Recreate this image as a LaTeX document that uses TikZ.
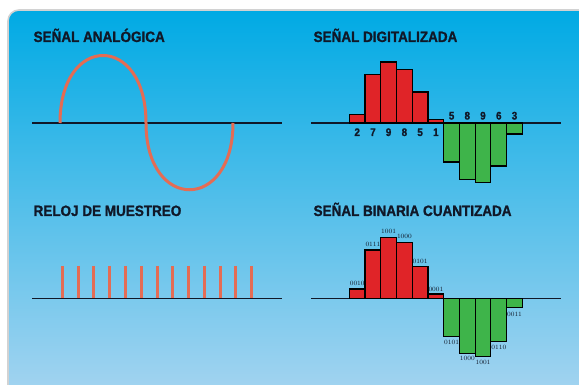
\documentclass[tikz,border=0pt]{standalone}
\usepackage{fontspec}
\usepackage{tikz}
\newfontfamily\titlefont[FakeStretch=0.9,BoldFeatures={FakeBold=1.1}]{Liberation Sans}
\definecolor{skytop}{RGB}{0,170,228}
\definecolor{skybot}{RGB}{165,212,240}
\definecolor{ink}{RGB}{16,24,40}
\definecolor{wave}{RGB}{228,108,84}
\definecolor{barred}{RGB}{224,36,40}
\definecolor{bargreen}{RGB}{62,180,74}

\begin{document}
\begin{tikzpicture}[x=1pt,y=-1pt,line width=1.2pt,
  title/.style={anchor=base west,inner sep=0pt,text=ink,font=\titlefont\bfseries\fontsize{15}{18}\selectfont},
  digit/.style={anchor=base,inner sep=0pt,text=ink,font=\titlefont\bfseries\fontsize{11}{12}\selectfont},
  bits/.style={anchor=base,inner sep=0pt,text=ink,font=\fontsize{6.5}{7}\selectfont},
  axis/.style={draw=ink,line width=1.1pt},
  redbar/.style={fill=barred,draw=black,line width=1.1pt},
  greenbar/.style={fill=bargreen,draw=black,line width=1.1pt},
  tick/.style={draw=wave,line width=3pt}]
\useasboundingbox (0,0) rectangle (579,385);
\clip (0,0) rectangle (579,385);
\fill[white] (0,0) rectangle (579,385);
\shade[top color=skytop,bottom color=skybot,rounded corners=11pt] (8,10) rectangle (592,396);
\draw[gray!35,line width=1.6pt,rounded corners=11pt] (8,10) rectangle (592,396);
\node[title] (analog) at (33,42) {SEÑAL ANALÓGICA};
\node[title] (digital) at (313,42) {SEÑAL DIGITALIZADA};
\node[title] (clock) at (33,216) {RELOJ DE MUESTREO};
\node[title] (binary) at (313,216) {SEÑAL BINARIA CUANTIZADA};
\draw[axis] (32,123)--(282,123);
\draw[wave,line width=3pt] (60,123) .. controls (60,33) and (146,33) .. (146,123) .. controls (146,212) and (233,212) .. (233,123);
\draw[tick] (62.3,266)--(62.3,298.5);
\draw[tick] (78.1,266)--(78.1,298.5);
\draw[tick] (93.9,266)--(93.9,298.5);
\draw[tick] (109.6,266)--(109.6,298.5);
\draw[tick] (125.4,266)--(125.4,298.5);
\draw[tick] (141.2,266)--(141.2,298.5);
\draw[tick] (157.0,266)--(157.0,298.5);
\draw[tick] (172.8,266)--(172.8,298.5);
\draw[tick] (188.5,266)--(188.5,298.5);
\draw[tick] (204.3,266)--(204.3,298.5);
\draw[tick] (220.1,266)--(220.1,298.5);
\draw[tick] (235.9,266)--(235.9,298.5);
\draw[tick] (251.7,266)--(251.7,298.5);
\draw[axis] (32,298.5)--(282,298.5);
\draw[axis] (311,123)--(561,123);
\draw[redbar] (349.3,123) rectangle (365.0,114.3);
\draw[redbar] (365.0,123) rectangle (380.8,74.3);
\draw[redbar] (380.8,123) rectangle (396.5,62);
\draw[redbar] (396.5,123) rectangle (412.2,69.3);
\draw[redbar] (412.2,123) rectangle (428.0,92);
\draw[redbar] (428.0,123) rectangle (443.7,119.5);
\draw[greenbar] (443.7,123) rectangle (459.4,162);
\draw[greenbar] (459.4,123) rectangle (475.2,179.3);
\draw[greenbar] (475.2,123) rectangle (490.9,182.7);
\draw[greenbar] (490.9,123) rectangle (506.6,166);
\draw[greenbar] (506.6,123) rectangle (522.3,134);
\node[digit] (d1) at (357.2,136) {2};
\node[digit] (d2) at (372.9,136) {7};
\node[digit] (d3) at (388.6,136) {9};
\node[digit] (d4) at (404.4,136) {8};
\node[digit] (d5) at (420.1,136) {5};
\node[digit] (d6) at (435.9,136) {1};
\node[digit] (d7) at (451.6,119.5) {5};
\node[digit] (d8) at (467.3,119.5) {8};
\node[digit] (d9) at (483.0,119.5) {9};
\node[digit] (d10) at (498.8,119.5) {6};
\node[digit] (d11) at (514.5,119.5) {3};
\draw[axis] (311,298.5)--(561,298.5);
\draw[redbar] (349.3,298.5) rectangle (365.0,289);
\draw[redbar] (365.0,298.5) rectangle (380.8,250);
\draw[redbar] (380.8,298.5) rectangle (396.5,237.3);
\draw[redbar] (396.5,298.5) rectangle (412.2,242.7);
\draw[redbar] (412.2,298.5) rectangle (428.0,266.7);
\draw[redbar] (428.0,298.5) rectangle (443.7,294);
\draw[greenbar] (443.7,298.5) rectangle (459.4,336.7);
\draw[greenbar] (459.4,298.5) rectangle (475.2,353.3);
\draw[greenbar] (475.2,298.5) rectangle (490.9,356.7);
\draw[greenbar] (490.9,298.5) rectangle (506.6,341.7);
\draw[greenbar] (506.6,298.5) rectangle (522.3,307.3);
\node[bits] (b1) at (357.2,285) {0010};
\node[bits] (b2) at (372.9,246.3) {0111};
\node[bits] (b3) at (388.6,234) {1001};
\node[bits] (b4) at (404.4,239) {1000};
\node[bits] (b5) at (420.1,263.3) {0101};
\node[bits] (b6) at (435.9,291.3) {0001};
\node[bits] (b7) at (451.6,344.6) {0101};
\node[bits] (b8) at (467.3,360.6) {1000};
\node[bits] (b9) at (483.0,364.6) {1001};
\node[bits] (b10) at (498.8,349.6) {0110};
\node[bits] (b11) at (514.5,316.6) {0011};
\end{tikzpicture}
\end{document}
